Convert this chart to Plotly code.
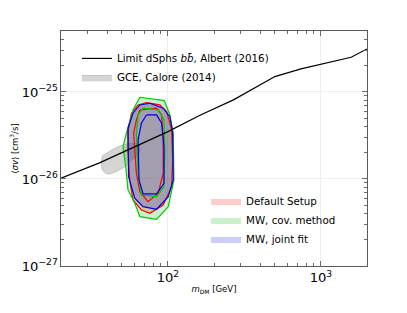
import plotly.graph_objects as go

# ---- data (cross section in units of 1e-26 cm^3/s, mass in GeV) ----
limit_m = [20, 35.7, 100, 162, 268, 500, 740, 1575, 2000]
limit_sv = [1.02, 1.53, 3.5, 5.4, 8.1, 15.0, 18.4, 25.0, 31.2]

gce_m = [36.8, 37.5, 40.0, 48.3, 56.2, 63.5, 65.5, 64.7, 57.9, 52.1, 43.5, 40.3, 37.5, 36.8]
gce_sv = [1.60, 1.85, 2.0, 2.39, 2.56, 2.53, 2.27, 1.94, 1.65, 1.37, 1.17, 1.14, 1.25, 1.40]

red_outer_m = [72.4, 88.5, 98.0, 105.7, 107.4, 105.7, 93.1, 76.2, 67.1, 59.1, 56.2, 54.8, 54.8, 57.7, 63.8]
red_outer_sv = [7.53, 7.09, 5.94, 3.66, 1.65, 0.815, 0.502, 0.403, 0.440, 0.574, 0.974, 2.15, 3.50, 5.69, 7.09]
red_inner_m = [65.5, 84.3, 90.9, 93.1, 93.1, 86.3, 74.1, 65.5, 62.2, 59.7, 62.2]
red_inner_sv = [6.21, 6.50, 5.44, 2.81, 1.16, 0.685, 0.548, 0.715, 1.16, 3.35, 4.76]

green_outer_m = [65.5, 94.6, 103.0, 108.3, 109.4, 100.5, 84.3, 65.5, 60.7, 54.8, 53.0, 50.8, 53.5, 59.1]
green_outer_sv = [8.69, 7.94, 5.44, 3.35, 0.974, 0.481, 0.344, 0.369, 0.526, 0.748, 1.38, 2.35, 3.35, 6.21]
green_inner_m = [68.8, 86.3, 94.2, 95.5, 94.2, 84.3, 67.1, 63.8, 62.2, 63.8]
green_inner_sv = [6.50, 6.21, 4.76, 2.15, 0.815, 0.627, 0.655, 1.16, 3.35, 5.44]

blue_outer_m = [76.2, 93.1, 103.0, 107.4, 108.3, 100.5, 84.3, 68.8, 60.7, 55.3, 54.8, 59.1, 65.5]
blue_outer_sv = [7.41, 6.50, 5.20, 3.35, 0.974, 0.627, 0.449, 0.481, 0.600, 1.06, 3.83, 5.69, 7.09]
blue_inner_m = [72.4, 84.3, 90.9, 94.2, 94.2, 84.3, 68.8, 64.7, 63.8, 67.1]
blue_inner_sv = [5.44, 5.44, 4.37, 2.35, 0.893, 0.673, 0.673, 0.974, 2.81, 4.37]

UNIT = 1e-26
def sc(v):
    return [x * UNIT for x in v]
def close(v):
    return list(v) + [v[0]]

FONT = "DejaVu Sans"
fig = go.Figure()

# GCE blob
fig.add_trace(go.Scatter(
    x=close(gce_m), y=sc(close(gce_sv)), mode="lines", fill="toself",
    line=dict(color="rgba(128,128,128,0.35)", width=1, shape="spline", smoothing=1.0),
    fillcolor="rgba(128,128,128,0.33)", name="GCE, Calore (2014)",
    legend="legend", legendrank=2, hoverinfo="skip"))

setups = [
    ("Default Setup", "rgb(255,0,0)", "rgba(255,0,0,0.2)", red_outer_m, red_outer_sv, red_inner_m, red_inner_sv),
    ("MW, cov. method", "rgb(0,200,0)", "rgba(0,180,0,0.2)", green_outer_m, green_outer_sv, green_inner_m, green_inner_sv),
    ("MW, joint fit", "rgb(0,0,235)", "rgba(0,0,230,0.2)", blue_outer_m, blue_outer_sv, blue_inner_m, blue_inner_sv),
]
for i, (name, lc, fc, om, osv, im, isv) in enumerate(setups):
    fig.add_trace(go.Scatter(
        x=close(om), y=sc(close(osv)), mode="lines", fill="toself",
        line=dict(width=0, color=fc), fillcolor=fc, name=name,
        legend="legend2", legendrank=i + 1, hoverinfo="skip"))
for i, (name, lc, fc, om, osv, im, isv) in enumerate(setups):
    fig.add_trace(go.Scatter(x=close(om), y=sc(close(osv)), mode="lines",
                             line=dict(color=lc, width=1.2), showlegend=False, hoverinfo="skip"))
    fig.add_trace(go.Scatter(x=close(im), y=sc(close(isv)), mode="lines",
                             line=dict(color=lc, width=1.2), showlegend=False, hoverinfo="skip"))

fig.add_trace(go.Scatter(
    x=limit_m, y=sc(limit_sv), mode="lines", line=dict(color="black", width=1.2),
    name="Limit dSphs <i>b</i><i>b̄</i>, Albert (2016)", legend="legend", legendrank=1,
    hoverinfo="skip"))

axis_common = dict(
    type="log", showline=True, linecolor="#5a5a5a", linewidth=1.2, mirror="ticks",
    ticks="inside", ticklen=5, tickcolor="#6a6a6a", tickwidth=1,
    showgrid=True, gridcolor="#eeeeee", gridwidth=1, zeroline=False,
    dtick=1, exponentformat="power", showexponent="all", automargin=False,
    tickfont=dict(family=FONT, size=10.5, color="black"),
    minor=dict(ticks="inside", ticklen=3, tickcolor="#6a6a6a", dtick="D1", showgrid=False),
)

# the page body has an 8px margin, so the figure is shrunk by that amount
fig.update_layout(
    width=399, height=305,
    margin=dict(l=53, r=40, t=23, b=47),
    paper_bgcolor="white", plot_bgcolor="white",
    font=dict(family=FONT, size=10, color="black"),
    xaxis=dict(**axis_common, range=[1.30103, 3.30103],
               title=dict(text="<i>m</i><sub>DM</sub> [GeV]", font=dict(family=FONT, size=8.5), standoff=1)),
    yaxis=dict(**axis_common, range=[-27, -24.30],
               title=dict(text="⟨<i>σv</i>⟩ [cm<sup>3</sup>/s]", font=dict(family=FONT, size=8.5), standoff=4)),
    legend=dict(x=0.052, y=0.945, xanchor="left", yanchor="top", bgcolor="rgba(0,0,0,0)",
                font=dict(family=FONT, size=10.3), tracegroupgap=0),
    legend2=dict(x=0.474, y=0.338, xanchor="left", yanchor="top", bgcolor="rgba(0,0,0,0)",
                 font=dict(family=FONT, size=10.3), tracegroupgap=0),
    showlegend=True,
)

fig.write_html("out.html")
